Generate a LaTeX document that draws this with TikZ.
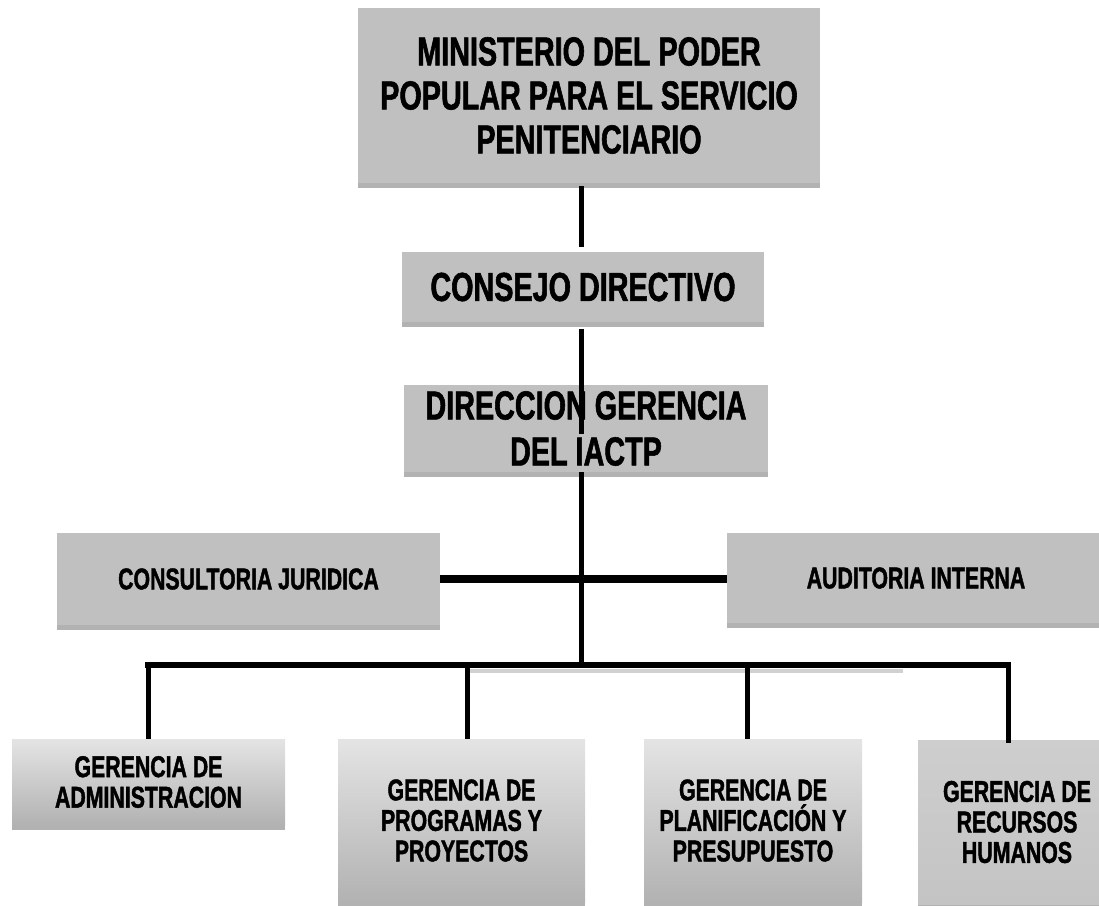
\documentclass[tikz,border=0pt]{standalone}
\usepackage{fontspec}
\setmainfont{Liberation Sans}[FakeStretch=0.71, BoldFeatures={FakeBold=1.4}]
\usetikzlibrary{shadows}
\definecolor{boxgray}{RGB}{192,192,192}
\definecolor{gradtop}{RGB}{228,228,228}
\definecolor{gradbot}{RGB}{178,178,178}
\definecolor{rhtop}{RGB}{206,206,206}
\definecolor{rhbot}{RGB}{196,196,196}
\tikzset{
  orgbox/.style={rectangle, inner sep=0pt, align=center, font=\bfseries,
    drop shadow={shadow xshift=0pt, shadow yshift=-5pt, opacity=0.3, fill=black}},
  flatbox/.style={orgbox, fill=boxgray},
  gradbox/.style={orgbox, top color=gradtop, bottom color=gradbot},
  rhbox/.style={orgbox, top color=rhtop, bottom color=rhbot},
  bigtext/.style={font=\fontsize{40.5}{44}\bfseries\selectfont},
  midtext/.style={font=\fontsize{30}{30.5}\bfseries\selectfont},
  conn/.style={draw=black, line width=5pt},
  thickconn/.style={draw=black, line width=8pt},
  busline/.style={draw=black, line width=6pt},
  lineshadow/.style={draw=black!18, line width=4pt}
}
\begin{document}
\begin{tikzpicture}[x=1pt,y=-1pt]
\useasboundingbox (0,0) rectangle (1099,905);
\clip (0,0) rectangle (1099,905);

\coordinate (sp) at (581,0);
\coordinate (bus) at (0,665);

% boxes
\node[flatbox, bigtext, minimum width=462pt, minimum height=175pt] (min) at (589,95.5)
  {MINISTERIO DEL PODER\\POPULAR PARA EL SERVICIO\\PENITENCIARIO};
\node[flatbox, bigtext, minimum width=362pt, minimum height=70pt] (con) at (583,287)
  {CONSEJO DIRECTIVO};
\node[flatbox, font=\fontsize{40.5}{46}\bfseries\selectfont, minimum width=364pt, minimum height=87pt] (dir) at (586,428.5)
  {DIRECCION GERENCIA\\DEL IACTP};
\node[flatbox, midtext, minimum width=383pt, minimum height=92pt] (cj) at (248.5,579)
  {CONSULTORIA JURIDICA};
\node[flatbox, midtext, minimum width=378pt, minimum height=90pt] (au) at (916,578)
  {AUDITORIA INTERNA};

\node[gradbox, midtext, minimum width=273pt, minimum height=86pt] (adm) at (148.5,782)
  {GERENCIA DE\\ADMINISTRACION};
\node[gradbox, midtext, minimum width=247pt, minimum height=163pt] (pp) at (461.5,820.5)
  {GERENCIA DE\\PROGRAMAS Y\\PROYECTOS};
\node[gradbox, midtext, minimum width=218pt, minimum height=163pt] (pl) at (753,820.5)
  {GERENCIA DE\\PLANIFICACIÓN Y\\PRESUPUESTO};
\node[rhbox, midtext, minimum width=198pt, minimum height=164pt] (rh) at (1017,822)
  {GERENCIA DE\\RECURSOS\\HUMANOS};

% drop coordinates on the bus
\coordinate (d1) at (148,665);
\coordinate (d2) at (467,665);
\coordinate (d3) at (747,665);
\coordinate (d4) at (1008,665);

% line shadow under bus
\draw[lineshadow] ([yshift=-6pt]d2) -- ([yshift=-6pt,xshift=-105pt]d4);

% connectors
\draw[conn] ([yshift=-3pt]min.south -| sp) -- ([yshift=5pt]con.north -| sp);
\draw[conn] ([yshift=-7pt]con.south -| sp) -- ([yshift=-5pt]dir.center -| sp);
\draw[conn] (dir.south -| sp) -- (bus -| sp);
\draw[thickconn] (cj.east) -- (cj.east -| au.west);
\draw[busline, line cap=rect] (d1) -- (d4);
\draw[conn] (d1) -- (d1 |- adm.north);
\draw[conn] (d2) -- (d2 |- pp.north);
\draw[conn] (d3) -- (d3 |- pl.north);
\draw[conn] (d4) -- ([yshift=-3pt]d4 |- rh.north);
\end{tikzpicture}
\end{document}
